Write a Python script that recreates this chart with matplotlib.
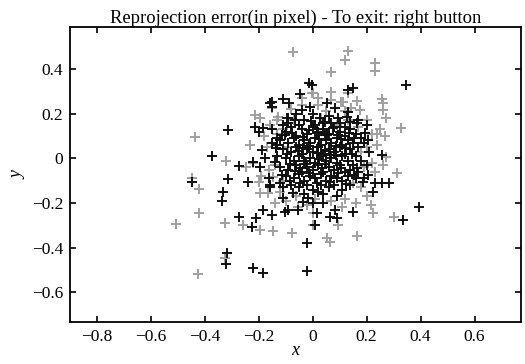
import matplotlib
matplotlib.use("Agg")
import matplotlib.pyplot as plt

title = "Reprojection error(in pixel) - To exit: right button"
xticks = [-0.8, -0.6, -0.4, -0.2, 0, 0.2, 0.4, 0.6]
yticks = [-0.6, -0.4, -0.2, 0, 0.2, 0.4]
xtick_labels = ["\u22120.8", "\u22120.6", "\u22120.4", "\u22120.2", "0", "0.2", "0.4", "0.6"]
ytick_labels = ["\u22120.6", "\u22120.4", "\u22120.2", "0", "0.2", "0.4"]

dark_pts = [
    (-0.374, 0.010), (-0.272, -0.034), (-0.445, -0.105), (-0.313, -0.094), (-0.33, -0.152),
    (-0.336, -0.191), (-0.238, -0.107), (-0.273, -0.261), (-0.226, -0.306), (-0.21, -0.266),
    (-0.183, -0.231), (-0.316, -0.422), (-0.319, -0.475), (-0.22, -0.492), (-0.183, -0.515),
    (-0.313, 0.127), (-0.214, 0.139), (-0.2, 0.119), (-0.158, 0.249), (-0.189, 0.037),
    (-0.013, 0.339), (-0.004, 0.328), (0.15, 0.313), (-0.047, 0.288), (-0.152, 0.253),
    (-0.111, 0.264), (-0.087, 0.246), (0.132, 0.209), (0.052, 0.246), (0.2, 0.149),
    (0.163, 0.159), (0.206, 0.082), (0.346, 0.328), (0.256, 0.015), (0.256, -0.109),
    (0.284, -0.109), (0.395, -0.217), (0.336, -0.276), (-0.152, -0.254), (-0.103, -0.239),
    (-0.053, -0.231), (-0.022, -0.381), (0.15, -0.239), (-0.02, -0.503), (0.015, -0.246),
    (0.089, -0.269), (0.064, -0.261), (-0.109, -0.179), (-0.072, -0.157), (-0.035, -0.194),
    (0.002, -0.201), (0.039, -0.201), (0.224, -0.149), (0.231, -0.112), (0.187, -0.105),
    (-0.158, -0.12), (-0.121, -0.112), (-0.152, 0.231), (-0.096, 0.179), (-0.183, 0.134),
    (-0.152, 0.067), (-0.133, 0.09), (-0.103, 0.104), (0.132, 0.306), (-0.01, 0.231),
    (0.083, 0.224), (-0.041, 0.216), (-0.09, 0.179), (-0.066, 0.171), (0.027, 0.179),
    (0.046, 0.164), (0.095, 0.179), (0.126, 0.186), (0.138, 0.164), (-0.22, -0.015),
    (-0.195, -0.038), (-0.177, 0.0), (-0.158, -0.127), (-0.115, -0.075), (-0.14, -0.015),
    (0.009, -0.299), (0.083, -0.231), (-0.09, -0.231), (-0.016, -0.179),
    (-0.10, 0.12), (-0.08, 0.14), (-0.06, 0.10), (-0.04, 0.13), (-0.02, 0.11), (0.00, 0.14),
    (0.02, 0.12), (0.04, 0.13), (0.06, 0.11), (0.08, 0.14), (0.10, 0.12), (0.12, 0.10),
    (0.14, 0.13), (0.16, 0.11), (0.18, 0.09), (-0.12, 0.08), (-0.09, 0.07), (-0.07, 0.09),
    (-0.05, 0.06), (-0.03, 0.08), (-0.01, 0.07), (0.01, 0.09), (0.03, 0.06), (0.05, 0.08),
    (0.07, 0.07), (0.09, 0.09), (0.11, 0.06), (0.13, 0.08), (0.15, 0.07), (0.17, 0.05),
    (0.19, 0.07), (-0.11, 0.04), (-0.08, 0.03), (-0.06, 0.05), (-0.04, 0.02), (-0.02, 0.04),
    (0.00, 0.03), (0.02, 0.05), (0.04, 0.02), (0.06, 0.04), (0.08, 0.03), (0.10, 0.05),
    (0.12, 0.02), (0.14, 0.04), (0.16, 0.01), (0.21, 0.03), (-0.13, 0.01), (-0.10, 0.00),
    (-0.07, -0.01), (-0.05, 0.01), (-0.03, -0.01), (-0.01, 0.00), (0.01, -0.02), (0.03, 0.01),
    (0.05, -0.01), (0.07, 0.00), (0.09, -0.02), (0.11, 0.01), (0.13, -0.01), (0.15, -0.03),
    (0.18, -0.01), (-0.12, -0.04), (-0.09, -0.05), (-0.06, -0.03), (-0.04, -0.06), (-0.02, -0.04),
    (0.00, -0.05), (0.02, -0.03), (0.04, -0.06), (0.06, -0.04), (0.08, -0.05), (0.10, -0.03),
    (0.12, -0.06), (0.14, -0.05), (0.17, -0.06), (-0.10, -0.08), (-0.07, -0.09), (-0.05, -0.07),
    (-0.03, -0.10), (-0.01, -0.08), (0.01, -0.09), (0.03, -0.07), (0.05, -0.10), (0.07, -0.08),
    (0.09, -0.09), (0.11, -0.10), (0.13, -0.08), (0.16, -0.09), (-0.08, -0.12), (-0.05, -0.13),
    (-0.02, -0.12), (0.00, -0.14), (0.03, -0.12), (0.06, -0.13), (0.08, -0.12), (0.11, -0.14),
    (0.14, -0.12), (-0.03, -0.16), (0.04, -0.16), (0.09, -0.17), (-0.09, 0.16), (-0.03, 0.17),
    (0.04, 0.16), (0.10, 0.16), (0.06, 0.19), (-0.06, 0.20), (0.00, 0.20), (-0.015, 0.055),
    (0.025, 0.085), (0.045, 0.035), (-0.035, 0.095), (0.085, 0.055), (0.065, 0.015),
    (-0.055, 0.035), (0.015, 0.025), (-0.025, -0.025), (0.035, -0.045), (0.055, 0.105),
    (-0.075, 0.115), (0.105, 0.085), (0.125, 0.045), (-0.085, -0.025), (0.095, -0.065),
    (-0.045, -0.045), (0.015, 0.115), (-0.005, 0.165), (0.075, 0.135), (0.135, 0.115),
    (-0.115, 0.105), (0.195, 0.115), (0.165, -0.045), (0.205, -0.075), (-0.135, 0.045),
    (-0.11, 0.15), (-0.05, 0.15), (0.01, 0.15), (0.07, 0.16), (0.12, 0.14), (-0.13, 0.06),
    (-0.015, 0.125), (0.045, 0.105), (0.095, 0.105), (0.155, 0.09), (-0.095, 0.02),
    (-0.035, 0.045), (0.025, -0.005), (0.085, 0.015), (0.145, 0.02), (-0.065, -0.055),
    (-0.015, -0.065), (0.045, -0.025), (0.105, -0.045), (0.155, -0.075), (-0.085, -0.10),
    (-0.045, -0.11), (0.015, -0.11), (0.065, -0.105), (0.125, -0.115), (-0.11, -0.13),
    (0.02, -0.15), (-0.15, 0.13), (0.17, 0.17), (0.20, -0.03), (-0.16, -0.09), (0.19, -0.09),
]

light_pts = [
    (-0.319, -0.011), (-0.247, -0.038), (-0.22, -0.02), (-0.448, -0.090), (-0.42, -0.137),
    (-0.2, -0.107), (-0.42, -0.243), (-0.504, -0.294), (-0.324, -0.288), (-0.257, -0.299),
    (-0.193, -0.321), (-0.325, -0.448), (-0.424, -0.518), (-0.436, 0.097), (-0.214, 0.194),
    (-0.232, 0.06), (-0.072, 0.477), (0.132, 0.480), (0.12, 0.44), (0.231, 0.425),
    (0.231, 0.392), (0.068, 0.388), (0.07, 0.298), (0.132, 0.294), (-0.004, 0.294),
    (-0.041, 0.269), (0.256, 0.264), (0.261, 0.216), (0.163, 0.258), (0.107, 0.253),
    (0.175, 0.216), (-0.152, 0.224), (-0.01, 0.231), (0.237, 0.109), (0.259, 0.249),
    (0.326, 0.134), (0.268, 0.101), (0.271, 0.007), (0.311, -0.067), (0.301, -0.264),
    (-0.146, -0.324), (-0.078, -0.336), (0.002, -0.299), (0.052, -0.358), (0.064, -0.373),
    (0.095, -0.299), (0.163, -0.348), (0.224, -0.243), (0.218, -0.209), (0.002, -0.246),
    (-0.164, -0.157), (-0.195, 0.179), (-0.127, 0.186), (-0.158, 0.149), (0.002, 0.291),
    (0.021, 0.239), (0.07, 0.261), (0.113, 0.253), (0.144, 0.224), (-0.195, -0.157),
    (-0.146, -0.082), (-0.053, -0.217),
    (-0.11, 0.13), (-0.07, 0.17), (0.03, 0.18), (0.09, 0.15), (0.17, 0.14), (-0.13, 0.11),
    (0.13, 0.17), (-0.09, 0.05), (0.20, 0.05), (0.22, 0.11), (0.18, 0.03), (-0.14, -0.03),
    (0.19, -0.04), (0.22, -0.02), (-0.11, -0.10), (0.15, -0.11), (0.18, -0.13), (-0.06, -0.17),
    (0.01, -0.18), (0.07, -0.19), (0.12, -0.18), (-0.12, -0.15), (-0.17, 0.05), (-0.16, -0.05),
    (0.24, 0.06), (0.23, -0.06), (-0.08, 0.22), (0.12, 0.21), (0.05, 0.21), (-0.13, 0.17),
    (0.20, 0.17), (0.25, 0.13), (-0.18, 0.10), (0.26, -0.03), (-0.04, 0.24), (0.02, 0.27),
    (-0.19, -0.08), (0.20, -0.17), (0.16, -0.20), (-0.02, -0.21), (0.11, -0.22), (-0.14, -0.20),
    (0.27, 0.18), (-0.10, -0.19),
]

plt.rcParams['font.family'] = ['Liberation Serif', 'DejaVu Serif']

fig = plt.figure(figsize=(5.25, 3.64), dpi=100)
ax = fig.add_axes([0.134, 0.115, 0.858, 0.811])

lx = [p[0] for p in light_pts]
ly = [p[1] for p in light_pts]
dx = [p[0] for p in dark_pts]
dy = [p[1] for p in dark_pts]
ax.plot(lx, ly, linestyle='none', marker='+', markersize=6.5, markeredgewidth=1.4,
        color='#a0a0a0')
ax.plot(dx, dy, linestyle='none', marker='+', markersize=6.5, markeredgewidth=1.4,
        color='#101010')

ax.set_xlim(-0.897, 0.771)
ax.set_ylim(-0.733, 0.588)
ax.set_xticks(xticks)
ax.set_xticklabels(xtick_labels)
ax.set_yticks(yticks)
ax.set_yticklabels(ytick_labels)
ax.tick_params(direction='in', length=4, width=1.2, top=True, right=True,
               labelsize=12.5, pad=5)
for s in ax.spines.values():
    s.set_linewidth(1.3)

ax.set_title(title, fontsize=13.4, pad=3)
ax.set_xlabel('x', fontsize=13, style='italic', labelpad=-2)
ax.set_ylabel('y', fontsize=13, style='italic', labelpad=4)

fig.savefig('out.png', dpi=100)
